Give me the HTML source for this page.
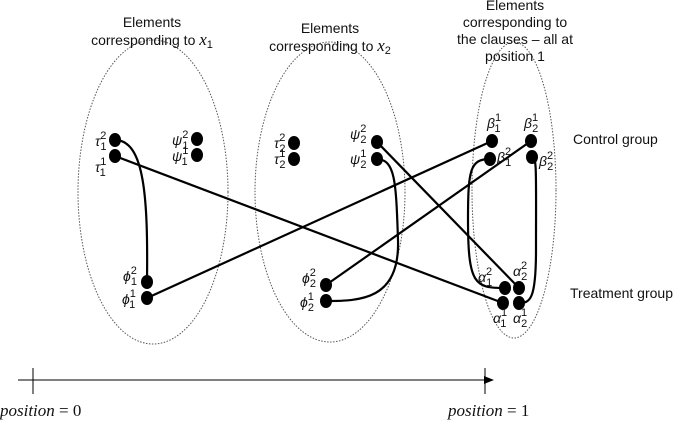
<!DOCTYPE html>
<html><head><style>body{margin:0;background:#fff}svg{display:block}
text{font-family:"Liberation Sans",sans-serif;font-size:14px;fill:#111}
.m{font-family:"Liberation Serif",serif;font-style:italic;font-size:17px}
.s{font-size:11px;font-family:"Liberation Sans",sans-serif;font-style:normal}</style></head><body>
<svg width="685" height="425" viewBox="0 0 685 425">
<g fill="none" stroke="#555" stroke-width="1" stroke-dasharray="1.5,1.5">
<ellipse cx="153" cy="192" rx="75" ry="152"/>
<ellipse cx="330" cy="192" rx="75" ry="150"/>
<ellipse cx="514" cy="190" rx="42" ry="148"/>
</g>
<g text-anchor="middle">
<text x="152" y="27">Elements</text><text x="152" y="45">corresponding to <tspan class="m">x</tspan><tspan class="s" dy="3">1</tspan></text>
<text x="330" y="33">Elements</text><text x="330" y="51">corresponding to <tspan class="m">x</tspan><tspan class="s" dy="3">2</tspan></text>
<text x="515" y="10">Elements</text><text x="515" y="27">corresponding to</text><text x="515" y="44">the clauses – all at</text><text x="515" y="61">position 1</text>
</g>
<text x="573" y="144" font-size="15">Control group</text>
<text x="570" y="298" font-size="15">Treatment group</text>
<g fill="none" stroke="#000" stroke-width="2.2">
<path d="M115 140 C145 140 148 200 147 282"/>
<line x1="115" y1="156" x2="503" y2="303"/>
<line x1="147" y1="298" x2="492" y2="141"/>
<line x1="326" y1="285" x2="531" y2="141"/>
<path d="M326 301 C360 301 400 300 398 240 C396 180 395 160 377 159"/>
<line x1="377" y1="142" x2="519" y2="288"/>
<path d="M490 159 C470 159 468 170 468 220 C468 285 475 288 505 288"/>
<path d="M532 157 C537 157 536 170 536 250 C536 300 530 303 519 303"/>
</g>
<g fill="#000">
<ellipse cx="115" cy="140" rx="6" ry="7"/><ellipse cx="115" cy="156" rx="6" ry="7"/>
<ellipse cx="197" cy="139" rx="6" ry="7"/><ellipse cx="197" cy="155" rx="6" ry="7"/>
<ellipse cx="147" cy="282" rx="6" ry="7"/><ellipse cx="147" cy="298" rx="6" ry="7"/>
<ellipse cx="294" cy="143" rx="6" ry="7"/><ellipse cx="294" cy="159" rx="6" ry="7"/>
<ellipse cx="326" cy="285" rx="6" ry="7"/><ellipse cx="326" cy="301" rx="6" ry="7"/>
<ellipse cx="377" cy="142" rx="6" ry="7"/><ellipse cx="377" cy="159" rx="6" ry="7"/>
<ellipse cx="492" cy="141" rx="6" ry="7"/><ellipse cx="490" cy="159" rx="6" ry="7"/>
<ellipse cx="531" cy="141" rx="6" ry="7"/><ellipse cx="532" cy="157" rx="6" ry="7"/>
<ellipse cx="505" cy="288" rx="6" ry="7"/><ellipse cx="519" cy="288" rx="6" ry="7"/>
<ellipse cx="503" cy="303" rx="6" ry="7"/><ellipse cx="519" cy="303" rx="6" ry="7"/>
</g>
<g class="m">
<text x="95" y="146">τ<tspan class="s" dy="-7">2</tspan><tspan class="s" dx="-6" dy="11">1</tspan></text>
<text x="95" y="172">τ<tspan class="s" dy="-7">1</tspan><tspan class="s" dx="-6" dy="11">1</tspan></text>
<text x="172" y="145">ψ<tspan class="s" dy="-7">2</tspan><tspan class="s" dx="-6" dy="11">1</tspan></text>
<text x="172" y="161">ψ<tspan class="s" dy="-7">1</tspan><tspan class="s" dx="-6" dy="11">1</tspan></text>
<text x="123" y="281">ϕ<tspan class="s" dy="-7">2</tspan><tspan class="s" dx="-6" dy="11">1</tspan></text>
<text x="122" y="304">ϕ<tspan class="s" dy="-7">1</tspan><tspan class="s" dx="-6" dy="11">1</tspan></text>
<text x="274" y="148">τ<tspan class="s" dy="-7">2</tspan><tspan class="s" dx="-6" dy="11">2</tspan></text>
<text x="274" y="164">τ<tspan class="s" dy="-7">1</tspan><tspan class="s" dx="-6" dy="11">2</tspan></text>
<text x="302" y="283">ϕ<tspan class="s" dy="-7">2</tspan><tspan class="s" dx="-6" dy="11">2</tspan></text>
<text x="300" y="307">ϕ<tspan class="s" dy="-7">1</tspan><tspan class="s" dx="-6" dy="11">2</tspan></text>
<text x="350" y="139">ψ<tspan class="s" dy="-7">2</tspan><tspan class="s" dx="-6" dy="11">2</tspan></text>
<text x="350" y="164">ψ<tspan class="s" dy="-7">1</tspan><tspan class="s" dx="-6" dy="11">2</tspan></text>
<text x="487" y="128">β<tspan class="s" dy="-7">1</tspan><tspan class="s" dx="-6" dy="11">1</tspan></text>
<text x="497" y="162">β<tspan class="s" dy="-7">2</tspan><tspan class="s" dx="-6" dy="11">1</tspan></text>
<text x="524" y="128">β<tspan class="s" dy="-7">1</tspan><tspan class="s" dx="-6" dy="11">2</tspan></text>
<text x="539" y="166">β<tspan class="s" dy="-7">2</tspan><tspan class="s" dx="-6" dy="11">2</tspan></text>
<text x="478" y="282">α<tspan class="s" dy="-7">2</tspan><tspan class="s" dx="-6" dy="11">1</tspan></text>
<text x="513" y="276">α<tspan class="s" dy="-7">2</tspan><tspan class="s" dx="-6" dy="11">2</tspan></text>
<text x="493" y="323">α<tspan class="s" dy="-7">1</tspan><tspan class="s" dx="-6" dy="11">1</tspan></text>
<text x="513" y="323">α<tspan class="s" dy="-7">1</tspan><tspan class="s" dx="-6" dy="11">2</tspan></text>
</g>
<g stroke="#000" stroke-width="1">
<line x1="18" y1="380" x2="488" y2="380"/>
<line x1="33" y1="368" x2="33" y2="394"/>
<line x1="485" y1="368" x2="485" y2="394"/>
</g>
<path d="M494 380 L484 376 L484 384 Z" fill="#000"/>
<text class="m" x="0" y="416" font-size="17">position <tspan font-style="normal">= 0</tspan></text>
<text class="m" x="448" y="416" font-size="17">position <tspan font-style="normal">= 1</tspan></text>
</svg></body></html>
